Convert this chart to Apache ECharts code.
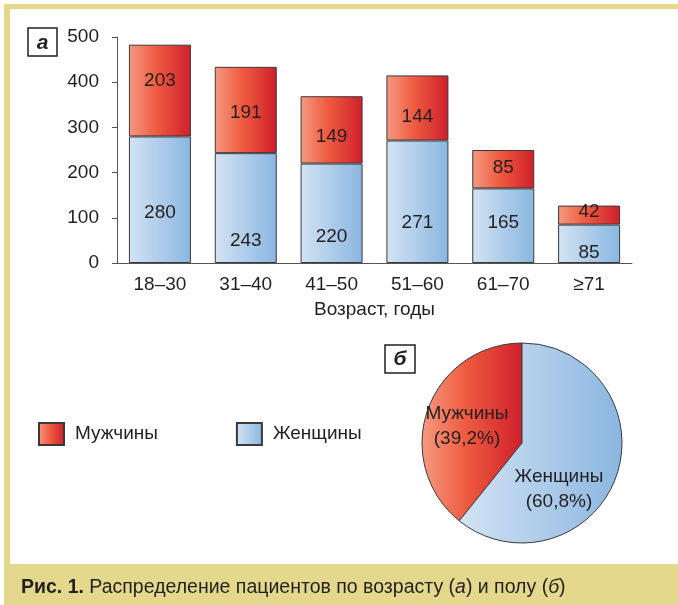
<!DOCTYPE html>
<html>
<head>
<meta charset="utf-8">
<title>Распределение пациентов</title>
<script src="https://cdn.jsdelivr.net/npm/echarts@6/dist/echarts.min.js"></script>
<style>
  html, body { margin: 0; padding: 0; background: #fff; }
  .chart { width: 678px; height: 605px; }
</style>
</head>
<body>
<div class="chart"></div>
<script>
// ======================= данные =======================
let ageGroups = ['18–30', '31–40', '41–50', '51–60', '61–70', '≥71']
let women = [280, 243, 220, 271, 165, 85]
let men = [203, 191, 149, 144, 85, 42]
let yTicks = [0, 100, 200, 300, 400, 500]
let sexNames = ['Мужчины', 'Женщины']
let sexShares = [39.2, 60.8]

// сдвиг подписей внутри столбиков (как на рисунке)
let womenLabelDy = [13, 33, 23, 21, -3, 9]
let menLabelDy = [-10, 3, 7, 9, -1, -3]
let pieLabelShift = [[-5, 1], [-13, 29]]

let font = '"Liberation Sans", Arial, sans-serif'
let ink = '#231f20'
let yellow = '#e3d88b'

let redFill = new echarts.graphic.LinearGradient(0, 0, 1, 0, [
  { offset: 0, color: '#f59a80' },
  { offset: 0.45, color: '#ee5a40' },
  { offset: 1, color: '#cf1f2c' }
])
let blueFill = new echarts.graphic.LinearGradient(0, 0, 1, 0, [
  { offset: 0, color: '#d3e3f4' },
  { offset: 1, color: '#8ab6e0' }
])

function qs(sel) { return document.querySelector(sel) }

let myEcharts = echarts.init(qs('.chart'))

let option = {
  animation: false,
  textStyle: { fontFamily: font, color: ink },
  grid: { left: 117, right: 46, top: 37, bottom: 342 },
  legend: {
    left: 38,
    top: 422,
    padding: 0,
    itemWidth: 25,
    itemHeight: 22,
    itemGap: 78,
    icon: 'rect',
    selectedMode: false,
    data: sexNames,
    textStyle: { fontFamily: font, fontSize: 19, color: ink, padding: [0, 0, 0, 6] }
  },
  xAxis: {
    type: 'category',
    data: ageGroups,
    name: 'Возраст, годы',
    nameLocation: 'middle',
    nameGap: 37,
    nameTextStyle: { fontFamily: font, fontSize: 19, color: ink },
    axisLine: { lineStyle: { color: '#555', width: 1 } },
    axisTick: { length: 5, lineStyle: { color: '#555' } },
    axisLabel: { margin: 12, fontFamily: font, fontSize: 19, color: ink }
  },
  yAxis: {
    type: 'value',
    min: yTicks[0],
    max: yTicks[yTicks.length - 1],
    interval: yTicks[1] - yTicks[0],
    splitLine: { show: false },
    axisLine: { show: true, lineStyle: { color: '#555', width: 1 } },
    axisTick: { show: true, length: 5, lineStyle: { color: '#555' } },
    axisLabel: { margin: 18, fontFamily: font, fontSize: 19, color: ink }
  },
  series: [
    {
      name: 'Женщины',
      type: 'bar',
      stack: 'all',
      barWidth: 62,
      data: women,
      itemStyle: { color: blueFill, borderColor: '#3a3a3a', borderWidth: 1 },
      label: { show: true, position: 'inside', fontFamily: font, fontSize: 19, color: ink },
      labelLayout: function (p) { return { dy: womenLabelDy[p.dataIndex] } }
    },
    {
      name: 'Мужчины',
      type: 'bar',
      stack: 'all',
      barWidth: 62,
      data: men,
      itemStyle: { color: redFill, borderColor: '#3a3a3a', borderWidth: 1 },
      label: { show: true, position: 'inside', fontFamily: font, fontSize: 19, color: ink },
      labelLayout: function (p) { return { dy: menLabelDy[p.dataIndex] } }
    },
    {
      name: 'Пол',
      type: 'pie',
      center: [522, 443],
      radius: [0, 100],
      startAngle: 90,
      clockwise: false,
      data: sexNames.map(function (n, i) {
        return {
          name: n,
          value: sexShares[i],
          itemStyle: { color: i === 0 ? redFill : blueFill }
        }
      }),
      itemStyle: { borderColor: '#3a3a3a', borderWidth: 1 },
      label: {
        show: true,
        position: 'inside',
        fontFamily: font,
        fontSize: 19,
        lineHeight: 25,
        color: ink,
        formatter: function (p) {
          return p.name + '\n(' + String(p.value).replace('.', ',') + '%)'
        }
      },
      labelLine: { show: false },
      labelLayout: function (p) {
        return { dx: pieLabelShift[p.dataIndex][0], dy: pieLabelShift[p.dataIndex][1] }
      },
      emphasis: { disabled: true }
    }
  ],
  graphic: [
    // рамка
    { type: 'rect', shape: { x: 4, y: 4, width: 674, height: 5 }, style: { fill: yellow }, silent: true },
    { type: 'rect', shape: { x: 4, y: 4, width: 6, height: 562 }, style: { fill: yellow }, silent: true },
    { type: 'rect', shape: { x: 4, y: 564, width: 674, height: 41 }, style: { fill: yellow }, silent: true },
    {
      type: 'text',
      x: 21,
      y: 588,
      style: {
        text: '{b|Рис. 1.} Распределение пациентов по возрасту ({i|а}) и полу ({i|б})',
        font: '19.5px ' + font,
        fill: ink,
        verticalAlign: 'middle',
        rich: {
          b: { fontWeight: 'bold', fontSize: 19.5, fontFamily: font, fill: ink },
          i: { fontStyle: 'italic', fontSize: 19.5, fontFamily: font, fill: ink }
        }
      }
    },
    // метки панелей
    { type: 'rect', shape: { x: 28, y: 28, width: 29, height: 28 }, style: { fill: '#fff', stroke: ink, lineWidth: 1.5 } },
    {
      type: 'text', x: 42.5, y: 43,
      style: { text: 'а', font: 'italic bold 21px ' + font, fill: ink, align: 'center', verticalAlign: 'middle' }
    },
    { type: 'rect', shape: { x: 385, y: 345, width: 30, height: 28 }, style: { fill: '#fff', stroke: ink, lineWidth: 1.5 } },
    {
      type: 'text', x: 400, y: 359,
      style: { text: 'б', font: 'italic bold 21px ' + font, fill: ink, align: 'center', verticalAlign: 'middle' }
    }
  ]
}

myEcharts.setOption(option)
</script>
</body>
</html>
